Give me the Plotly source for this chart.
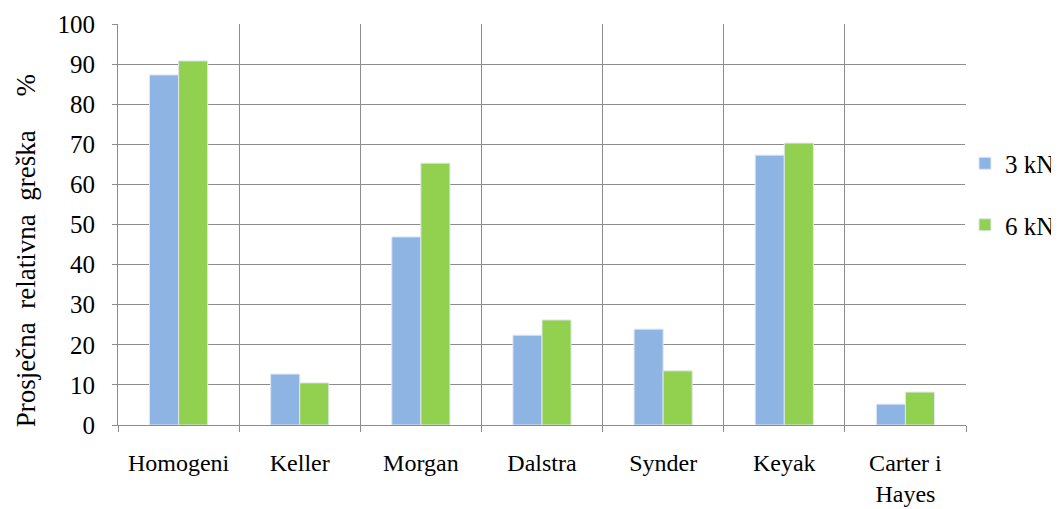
import plotly.graph_objects as go

categories = ['Homogeni', 'Keller', 'Morgan', 'Dalstra', 'Synder', 'Keyak', 'Carter i<br>Hayes']
vals_3kn = [87.3, 12.7, 46.9, 22.4, 23.9, 67.3, 5.2]
vals_6kn = [90.8, 10.5, 65.3, 26.2, 13.5, 70.3, 8.2]
y_ticks = list(range(0, 101, 10))

xpos = list(range(len(categories)))
font = 'Liberation Serif'
grid = '#8c8c8c'

fig = go.Figure()
fig.add_trace(go.Bar(x=xpos, y=vals_3kn, name='3 kN', legendgroup='a',
                     marker=dict(color='#8EB4E3', line=dict(color='#dfe6f0', width=1))))
fig.add_trace(go.Bar(x=xpos, y=vals_6kn, name='6 kN', legendgroup='b',
                     marker=dict(color='#92D050', line=dict(color='#dfe6f0', width=1))))

# page body has an 8px margin, so the figure is a bit smaller than the window
fig.update_layout(
    width=1051, height=501,
    margin=dict(l=110, r=93, t=16, b=84, autoexpand=False),
    plot_bgcolor='white', paper_bgcolor='white',
    font=dict(family=font, size=24, color='black'),
    barmode='group', bargap=0.52, bargroupgap=0,
    showlegend=True,
    legend=dict(x=0.9988, y=0.576, xanchor='left', yanchor='middle',
                traceorder='grouped', tracegroupgap=26,
                font=dict(family=font, size=25), itemwidth=30),
)
fig.add_annotation(
    text='Prosječna  relativna  greška     %', textangle=-90,
    xref='paper', yref='paper', x=-0.1085, y=0.436,
    xanchor='center', yanchor='middle', showarrow=False,
    font=dict(family=font, size=27),
)
fig.update_xaxes(
    range=[-0.5, len(categories) - 0.5], automargin=False,
    tickvals=xpos, ticktext=categories, ticks='', showgrid=False,
    tickfont=dict(family=font, size=24),
    ticklabelstandoff=16,
    showline=True, linecolor=grid, linewidth=1,
    minor=dict(tick0=-0.5, dtick=1, showgrid=True, gridcolor=grid, gridwidth=1,
               ticks='outside', ticklen=6, tickcolor=grid),
)
fig.update_yaxes(
    range=[0, 100], tickvals=y_ticks, automargin=False,
    tickfont=dict(family=font, size=25),
    ticklabelstandoff=12,
    showgrid=True, gridcolor=grid, gridwidth=1,
    showline=True, linecolor=grid, linewidth=1,
    ticks='outside', ticklen=5, tickcolor=grid,
    zeroline=False,
)
fig.write_html("out.html")
